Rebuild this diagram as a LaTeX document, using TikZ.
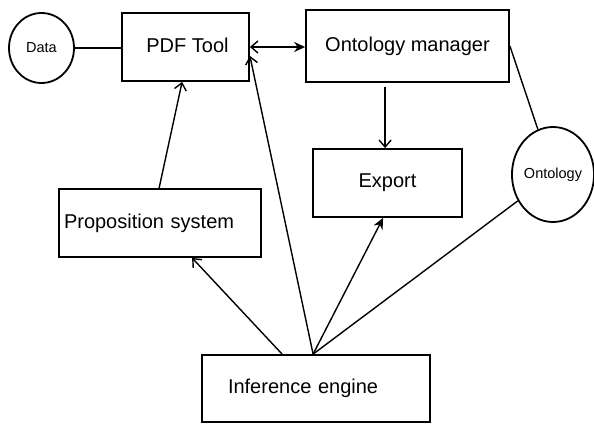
\documentclass[tikz,border=0pt]{standalone}
\usepackage{fontspec}
\setmainfont{Liberation Sans}
\usetikzlibrary{shapes.geometric,arrows.meta,calc}
\begin{document}
\begin{tikzpicture}[x=1pt,y=-1pt,
  box/.style={draw,line width=1.8pt,rectangle,inner sep=0pt,font=\fontsize{20}{24}\selectfont},
  circ/.style={draw,line width=1.8pt,ellipse,inner sep=0pt,font=\fontsize{14.5}{17}\selectfont},
  conn/.style={line width=1.4pt},
  openarr/.style={-{Straight Barb[length=7pt,width=12pt]}},
  fillarr/.style={-{Stealth[length=11pt,width=10pt]}},
  dblarr/.style={{Straight Barb[length=7pt,width=12pt]}-{Stealth[length=11pt,width=10pt]}}
]
\useasboundingbox (0,0) rectangle (594,423);
\node[circ,minimum width=65pt,minimum height=70pt] (data) at (41.5,48) {Data};
\node[box,minimum width=127pt,minimum height=68pt] (pdf) at (185.5,47) {\hspace{4pt}\raisebox{3.5pt}{PDF Tool}};
\node[box,minimum width=203pt,minimum height=72pt] (om) at (407.5,46) {\raisebox{-2pt}{Ontology manager}};
\node[box,minimum width=149pt,minimum height=68pt] (export) at (387.5,183) {Export\hspace{8pt}};
\node[circ,minimum width=80pt,minimum height=95pt] (ont) at (553,174.5) {Ontology};
\node[box,minimum width=202pt,minimum height=68pt,text width=192pt,align=left] (prop) at (160,223) {\raisebox{2pt}{Proposition system}};
\node[box,minimum width=228pt,minimum height=67pt,text width=176pt,align=left] (ie) at (316,388.5) {Inference engine};

\draw[conn] (data.east) -- (data.east -| pdf.west);
\draw[conn,dblarr] (pdf.east) -- (pdf.east -| om.west);
\draw[conn,openarr] ($(prop.north west)+(101,0)$) -- ($(pdf.south west)+(61,0)$);
\draw[conn,openarr] ($(ie.north west)+(81,0)$) -- ($(prop.south west)+(134,0)$);
\coordinate (iehub) at ($(ie.north west)+(112,0)$);
\draw[conn,openarr] (iehub) -- ($(pdf.south east)+(0,-26)$);
\draw[conn,fillarr] (iehub) -- ($(export.south west)+(71,0)$);
\draw[conn] (iehub) -- (ont);
\draw[conn] (om.east) -- (ont);
\coordinate (omx) at ($(om.south west)+(80,4)$);
\draw[conn,openarr] (omx) -- (omx |- export.north);
\end{tikzpicture}
\end{document}
